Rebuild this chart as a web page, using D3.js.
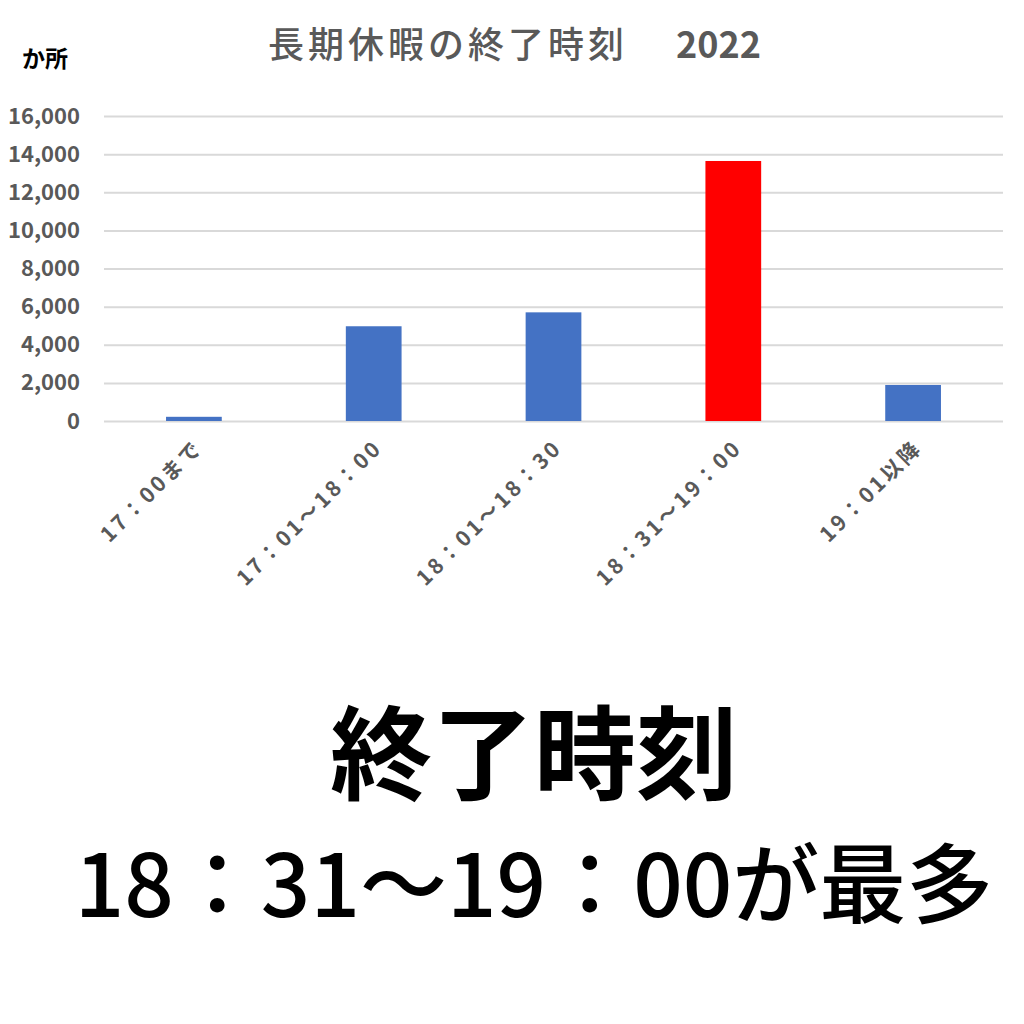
<!DOCTYPE html>
<html>
<head>
<meta charset="utf-8">
<script src="https://cdn.jsdelivr.net/npm/d3@7"></script>
<style>
  body { margin: 0; background: #fff; }
  svg { display: block; }
</style>
</head>
<body>
<svg id="chart" width="1024" height="1024"></svg>
<script>
// 終了時刻の区分と件数(か所)
const categories = ["17：00まで", "17：01～18：00", "18：01～18：30", "18：31～19：00", "19：01以降"];
const counts = [220, 4970, 5700, 13640, 1890];
const highlight = "18：31～19：00";
const yTicks = [0, 2000, 4000, 6000, 8000, 10000, 12000, 14000, 16000];

const font = "'Noto Sans CJK JP', 'Noto Sans', sans-serif";
const gray = "#595959";

const svg = d3.select("#chart")
  .attr("font-family", font);

svg.append("rect").attr("width", 1024).attr("height", 1024).attr("fill", "#fff");

// plot area
const plotLeft = 104, plotRight = 1003, plotTop = 116, plotBottom = 421;

const x = d3.scaleBand()
  .domain(categories)
  .range([plotLeft, plotRight])
  .paddingInner(0.69)
  .paddingOuter(0.345);

const y = d3.scaleLinear()
  .domain([0, 16000])
  .range([plotBottom, plotTop]);

// gridlines + y labels
const yAxis = d3.axisLeft(y)
  .tickValues(yTicks)
  .tickSize(-(plotRight - plotLeft))
  .tickPadding(24)
  .tickFormat(d3.format(","));

svg.append("g")
  .attr("transform", `translate(${plotLeft},0)`)
  .call(yAxis)
  .call(g => g.select(".domain").remove())
  .call(g => g.selectAll(".tick line").attr("stroke", "#d9d9d9").attr("stroke-width", 2))
  .call(g => g.selectAll(".tick text")
    .attr("fill", gray)
    .attr("font-family", font)
    .attr("font-size", 22)
    .attr("font-weight", "bold"));

// bars
svg.append("g")
  .selectAll("rect")
  .data(categories)
  .join("rect")
  .attr("x", d => x(d))
  .attr("width", x.bandwidth())
  .attr("y", (d, i) => y(counts[i]))
  .attr("height", (d, i) => y(0) - y(counts[i]))
  .attr("fill", d => d === highlight ? "#ff0000" : "#4472c4");

// rotated category labels (wide spacing like the original)
svg.append("g")
  .selectAll("text")
  .data(categories)
  .join("text")
  .attr("transform", d => `translate(${x(d) + x.bandwidth() / 2 + 10},${plotBottom + 28}) rotate(-45)`)
  .attr("text-anchor", "end")
  .attr("fill", gray)
  .attr("font-size", 21)
  .attr("font-weight", "bold")
  .attr("letter-spacing", 3)
  .text(d => d);

// title
const title = svg.append("text")
  .attr("y", 58)
  .attr("fill", gray)
  .attr("font-size", 36);
title.append("tspan")
  .attr("x", 268)
  .attr("font-weight", 500)
  .attr("letter-spacing", 4)
  .text("長期休暇の終了時刻");
title.append("tspan")
  .attr("x", 676)
  .attr("font-weight", "bold")
  .text("2022");

// unit
svg.append("text")
  .attr("x", 22)
  .attr("y", 67)
  .attr("fill", "#000")
  .attr("font-size", 23)
  .attr("font-weight", "bold")
  .text("か所");

// caption below the chart
svg.append("text")
  .attr("x", 534)
  .attr("y", 792)
  .attr("text-anchor", "middle")
  .attr("fill", "#000")
  .attr("font-size", 102)
  .attr("font-weight", "bold")
  .text("終了時刻");

svg.append("text")
  .attr("x", 534)
  .attr("y", 917)
  .attr("text-anchor", "middle")
  .attr("fill", "#000")
  .attr("font-size", 87)
  .attr("font-weight", 500)
  .text("18：31～19：00が最多");
</script>
</body>
</html>
